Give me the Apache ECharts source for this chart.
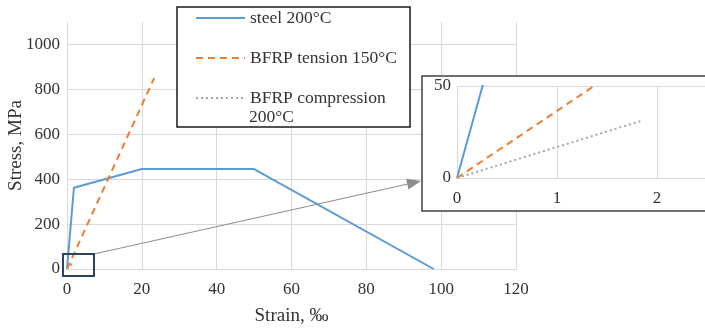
<!DOCTYPE html>
<html>
<head>
<meta charset="utf-8">
<script src="https://cdn.jsdelivr.net/npm/echarts@6/dist/echarts.min.js"></script>
<style>
  html, body { margin: 0; padding: 0; background: #fff; }
  #chart { width: 705px; height: 329px; }
</style>
</head>
<body>
<div id="chart"></div>
<script>
// values (strain in ‰, stress in MPa)
const steelStrain = [0, 1.85, 20, 50, 98];
const steelStress = [0, 362, 445, 445, 0];
const tensionStrain = [0, 23.3];
const tensionStress = [0, 850];
const compStrain = [0, 1.84];
const compStress = [0, 31];

const seriesNames = ['steel 200°C', 'BFRP tension 150°C', 'BFRP compression 200°C'];
const colors = ['#5b9bd5', '#ed7d31', '#a5a5a5'];
const dashes = ['solid', [7, 5], [2, 3]];

const zip = (xs, ys) => xs.map((x, i) => [x, ys[i]]);
const seriesData = [
  zip(steelStrain, steelStress),
  zip(tensionStrain, tensionStress),
  zip(compStrain, compStress),
];

const font = '"Liberation Serif", "Times New Roman", serif';
const textColor = '#333';
const gridColor = '#d9d9d9';
const label = { fontFamily: font, fontSize: 17, color: textColor };

const chart = echarts.init(document.getElementById('chart'));

const makeSeries = (inset) => seriesData.map((data, i) => ({
  name: seriesNames[i],
  type: 'line',
  xAxisIndex: inset ? 1 : 0,
  yAxisIndex: inset ? 1 : 0,
  data,
  symbol: 'none',
  silent: true,
  clip: true,
  z: inset ? 12 : 2,
  lineStyle: { color: colors[i], width: 2, type: dashes[i] },
  itemStyle: { color: colors[i] },
  animation: false,
}));

const option = {
  backgroundColor: '#fff',
  animation: false,
  grid: [
    { left: 67, right: 189, top: 22, bottom: 60, outerBoundsMode: 'none' },
    { left: 457, width: 300, top: 86, bottom: 151, z: 10, outerBoundsMode: 'none' },
  ],
  legend: {
    orient: 'vertical',
    left: 177,
    top: 7,
    padding: [1, 13, 19, 18],
    itemWidth: 49,
    itemHeight: 14,
    itemGap: 20,
    selectedMode: false,
    backgroundColor: '#fff',
    borderColor: '#1a1a1a',
    borderWidth: 1.5,
    itemStyle: { opacity: 0 },
    data: seriesNames,
    formatter: (name) => (name.startsWith('BFRP compression') ? 'BFRP compression' : name),
    textStyle: { fontFamily: font, fontSize: 17.5, color: textColor, lineHeight: 20 },
  },
  xAxis: [
    {
      type: 'value', gridIndex: 0, min: 0, max: 120, interval: 20,
      name: 'Strain, ‰', nameLocation: 'middle', nameGap: 38, nameMoveOverlap: false,
      nameTextStyle: { fontFamily: font, fontSize: 19, color: textColor },
      axisLine: { show: true, lineStyle: { color: gridColor, width: 1 } },
      axisTick: { show: false },
      axisLabel: { ...label, margin: 12 },
      splitLine: { show: true, lineStyle: { color: gridColor, width: 1 } },
    },
    {
      type: 'value', gridIndex: 1, min: 0, max: 3, interval: 1, z: 10,
      axisLine: { show: true, lineStyle: { color: gridColor, width: 1 } },
      axisTick: { show: false },
      axisLabel: { ...label, margin: 12 },
      splitLine: { show: true, lineStyle: { color: gridColor, width: 1 } },
    },
  ],
  yAxis: [
    {
      type: 'value', gridIndex: 0, min: 0, max: 1100, interval: 200,
      name: 'Stress, MPa', nameLocation: 'middle', nameGap: 41, nameMoveOverlap: false,
      nameTextStyle: { fontFamily: font, fontSize: 19, color: textColor },
      axisLine: { show: false },
      axisTick: { show: false },
      axisLabel: { ...label, margin: 7, showMaxLabel: false, formatter: (v) => String(v) },
      splitLine: {
        show: true,
        lineStyle: {
          color: [gridColor, gridColor, gridColor, gridColor, gridColor, gridColor, 'rgba(0,0,0,0)'],
          width: 1,
        },
      },
    },
    {
      type: 'value', gridIndex: 1, min: 0, max: 50, interval: 50, z: 10,
      axisLine: { show: false },
      axisTick: { show: false },
      axisLabel: { ...label, margin: 6 },
      splitLine: { show: true, lineStyle: { color: gridColor, width: 1 } },
    },
  ],
  graphic: [
    // frame of the zoomed inset
    {
      type: 'rect', z: 5, silent: true,
      shape: { x: 422, y: 76, width: 300, height: 135 },
      style: { fill: '#fff', stroke: '#404040', lineWidth: 1.5 },
    },
    // box marking the zoomed region
    {
      type: 'rect', z: 20, silent: true,
      shape: { x: 63, y: 254, width: 31, height: 22 },
      style: { fill: 'none', stroke: '#2b4561', lineWidth: 2 },
    },
    // pointer arrow
    {
      type: 'line', z: 3, silent: true,
      shape: { x1: 94, y1: 254, x2: 410, y2: 183.5 },
      style: { stroke: '#8c8c8c', lineWidth: 1 },
    },
    {
      type: 'polygon', z: 3, silent: true,
      shape: { points: [[421, 181], [406.1, 178.7], [408.5, 189.5]] },
      style: { fill: '#8c8c8c' },
    },
    // second line of the third legend entry
    {
      type: 'text', z: 10, silent: true,
      left: 249, top: 108,
      style: { text: '200°C', font: '17.5px ' + font, fill: textColor },
    },
  ],
  series: [...makeSeries(false), ...makeSeries(true)],
};

chart.setOption(option);
</script>
</body>
</html>
